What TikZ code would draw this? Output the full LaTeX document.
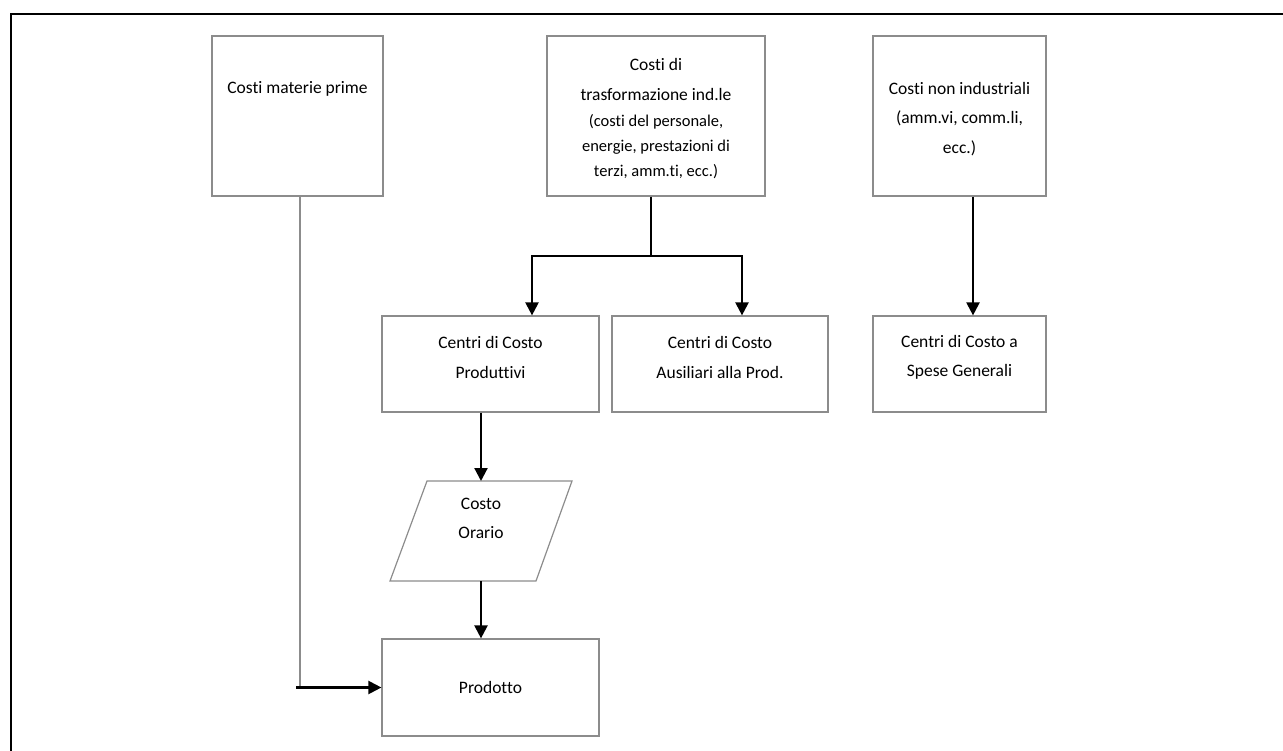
\documentclass[tikz,border=0pt]{standalone}
\usepackage{fontspec}
\setmainfont{Carlito}[Ligatures=CommonOff]
\usetikzlibrary{arrows.meta}
\definecolor{boxgray}{RGB}{140,140,140}
\begin{document}
\begin{tikzpicture}[x=1pt,y=-1pt,
  box/.style={draw=boxgray, line width=1.2pt, inner sep=0pt},
  txt/.style={align=center, inner sep=0pt, font=\fontsize{17.5}{29.5}\selectfont},
  smalltxt/.style={align=center, inner sep=0pt, font=\fontsize{16.5}{25}\selectfont},
  arr/.style={line width=2.2pt, -{Triangle[length=13pt,width=13pt]}},
  link/.style={line width=2.2pt},
  thinlink/.style={draw=boxgray, line width=1.2pt}]
\useasboundingbox (0,0) rectangle (1283,751);
% outer frame
\draw[line width=2pt] (1283,14) -- (11,14) -- (11,751);
% top row
\node[box, minimum width=171pt, minimum height=160pt] (A) at (297.5,116) {};
\node[txt] (At) at (297.5,89) {Costi materie prime};
\node[box, minimum width=218pt, minimum height=160pt] (B) at (656,116) {};
\node[txt] (Bt1) at (656,79.5) {Costi di\\trasformazione ind.le};
\node[smalltxt] (Bt2) at (656,147) {(costi del personale,\\energie, prestazioni di\\terzi, amm.ti, ecc.)};
\node[box, minimum width=173pt, minimum height=160pt] (D) at (959.5,116) {};
\node[txt] (Dt) at (959.5,119) {Costi non industriali\\(amm.vi, comm.li,\\ecc.)};
% middle row
\node[box, minimum width=217pt, minimum height=96pt] (C1) at (490.5,364) {};
\node[txt] (C1t) at (490.5,357.5) {Centri di Costo\\Produttivi};
\node[box, minimum width=216pt, minimum height=96pt] (C2) at (720,364) {};
\node[txt] (C2t) at (720,357.5) {Centri di Costo\\Ausiliari alla Prod.};
\node[box, minimum width=173pt, minimum height=96pt] (F) at (959.5,364) {};
\node[txt] (Ft) at (959.5,357.5) {Centri di Costo a\\Spese Generali};
% parallelogram
\draw[draw=boxgray, line width=1.2pt] (427,481) -- (572,481) -- (536,581) -- (390,581) -- cycle;
\node[txt] (Pt) at (481,518.5) {Costo\\Orario};
\coordinate (Ptop) at (481,481);
\coordinate (Pbot) at (481,581);
% bottom
\node[box, minimum width=217pt, minimum height=97pt] (Prod) at (490.5,687.5) {};
\node[txt] (Prodt) at (490.5,687) {Prodotto};
% connectors
\coordinate (split) at (651,256);
\draw[link] ([xshift=-5pt]B.south) -- (split);
\draw[arr] (split) -| ([xshift=41.5pt]C1.north);
\draw[arr] (split) -| ([xshift=22pt]C2.north);
\draw[arr] ([xshift=13.5pt]D.south) -- ([xshift=13.5pt]F.north);
\draw[arr] ([xshift=-9.5pt]C1.south) -- (Ptop);
\draw[arr] (Pbot) -- ([xshift=-9.5pt]Prod.north);
\coordinate (corner) at (300,687.5);
\draw[thinlink] ([xshift=2.5pt]A.south) -- (corner);
\draw[arr] ([xshift=-4pt]corner) -- (Prod.west);
\end{tikzpicture}
\end{document}
